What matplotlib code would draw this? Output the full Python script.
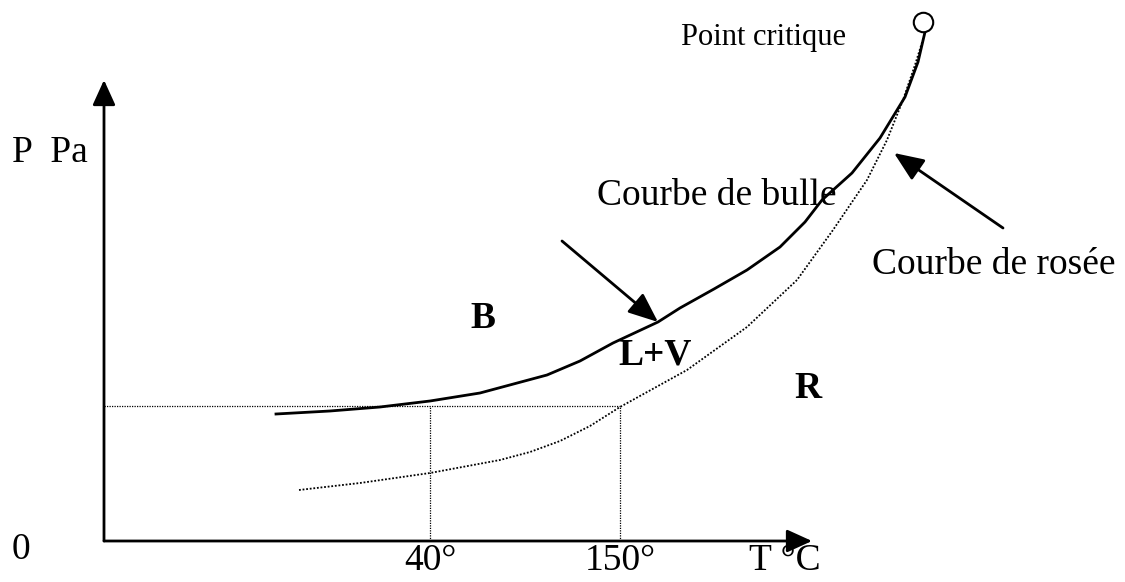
import matplotlib.pyplot as plt

plt.rcParams['font.family'] = ['Liberation Serif', 'DejaVu Serif']

# schematic units: horizontal/vertical distance from the origin of the diagram
bulle_T = [172, 226, 276, 326, 376, 443, 476, 509, 554, 576, 610, 643, 676, 701,
           718, 748, 776, 801, 814, 821]
bulle_P = [127, 130, 134, 140, 148, 166, 180, 198, 219, 233, 252, 271, 294, 319,
           341, 368, 403, 444, 479, 509]

rosee_T = [195, 256, 326, 396, 426, 456, 486, 516, 583, 643, 693, 729, 746, 763, 783,
           799, 811, 821]
rosee_P = [51, 58, 68, 81, 89, 100, 115, 134, 171, 214, 261, 311, 336, 361, 401,
           441, 476, 508]

crit_T, crit_P = 819, 519
P_ref = 135
T_marks = [326, 516]
T_labels = ['40°', '150°']

fig = plt.figure(figsize=(11.25, 5.82), dpi=100)
ax = fig.add_axes([0, 0, 1, 1])
ax.set_xlim(-104, 1021)
ax.set_ylim(-41, 541)
ax.axis('off')

axis_head = '-|>,head_length=0.55,head_width=0.25'
ax.annotate('', xy=(708, 0), xytext=(0, 0),
            arrowprops=dict(arrowstyle=axis_head, lw=2, color='black', mutation_scale=28,
                            shrinkA=0, shrinkB=0))
ax.annotate('', xy=(0, 461), xytext=(0, 0),
            arrowprops=dict(arrowstyle=axis_head, lw=2, color='black', mutation_scale=28,
                            shrinkA=0, shrinkB=0))

# curves
ax.plot(bulle_T, bulle_P, color='black', lw=2, solid_joinstyle='round')
ax.plot(rosee_T, rosee_P, color='black', lw=1.3, linestyle=(0, (1, 1)))
ax.plot([crit_T], [crit_P], 'o', ms=14, mfc='white', mec='black', mew=1.5)

# reference lines
ax.plot([0, T_marks[1]], [P_ref, P_ref], color='black', lw=0.9, linestyle=(0, (1, 1)))
for t in T_marks:
    ax.plot([t, t], [0, P_ref], color='black', lw=0.9, linestyle=(0, (1, 1)))

fs = 27
for t, lab in zip(T_marks, T_labels):
    ax.text(t, -3, lab, ha='center', va='top', fontsize=fs)
ax.text(681, -3, 'T °C', ha='center', va='top', fontsize=fs)
ax.text(-92, -9, '0', ha='left', va='center', fontsize=fs)
ax.text(-92, 388, 'P  Pa', ha='left', va='center', fontsize=fs)

ax.text(577, 503, 'Point critique', ha='left', va='center', fontsize=22)
ax.text(493, 345, 'Courbe de bulle', ha='left', va='center', fontsize=fs)
ax.text(768, 276, 'Courbe de rosée', ha='left', va='center', fontsize=fs)

ax.text(379, 223, 'B', ha='center', va='center', fontsize=fs, fontweight='bold')
ax.text(551, 186, 'L+V', ha='center', va='center', fontsize=fs, fontweight='bold')
ax.text(704, 153, 'R', ha='center', va='center', fontsize=fs, fontweight='bold')

head = '-|>,head_length=0.65,head_width=0.27'
ax.annotate('', xy=(554, 219), xytext=(458, 300),
            arrowprops=dict(arrowstyle=head, lw=2, color='black', mutation_scale=28,
                            shrinkA=0, shrinkB=0))
ax.annotate('', xy=(790, 388), xytext=(899, 313),
            arrowprops=dict(arrowstyle=head, lw=2, color='black', mutation_scale=28,
                            shrinkA=0, shrinkB=0))

fig.savefig('out.png', dpi=100)
